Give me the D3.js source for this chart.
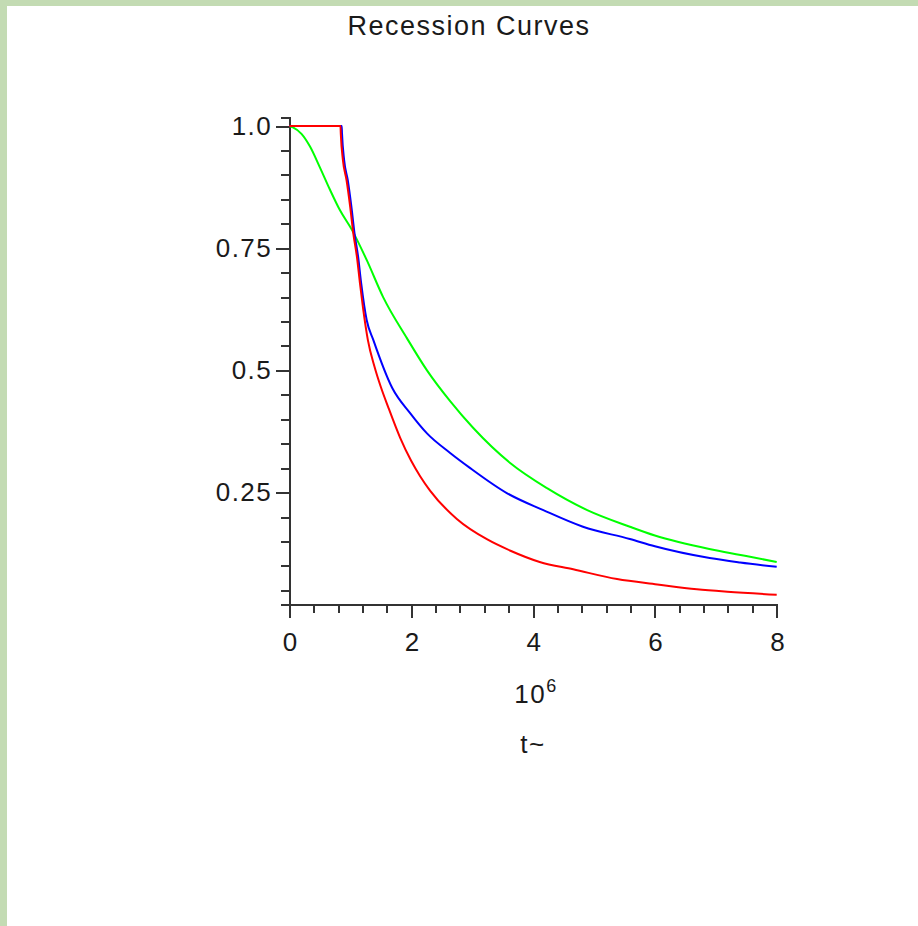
<html>
<head>
<script src="https://d3js.org/d3.v7.min.js"></script>
<style>
  body { margin: 0; background: #c3dbb3; }
  svg { display: block; }
  text { font-family: "Liberation Sans", Arial, sans-serif; fill: #1a1a1a; }
</style>
</head>
<body>
<svg width="918" height="926"></svg>
<script>
// values: t (x 10^6) and relative discharge
const redT   = [0, 0.84, 0.845, 0.88, 0.94, 1.0, 1.05, 1.11, 1.16, 1.21, 1.29, 1.40, 1.50, 1.62, 1.82, 2.0, 2.15, 2.31, 2.75, 3.25, 3.63, 4.11, 4.66, 5.38, 6.04, 6.69, 7.19, 8];
const redQ   = [1, 1, 0.985, 0.93, 0.889, 0.834, 0.781, 0.732, 0.678, 0.628, 0.562, 0.507, 0.467, 0.426, 0.362, 0.315, 0.283, 0.254, 0.196, 0.154, 0.131, 0.108, 0.093, 0.073, 0.062, 0.052, 0.047, 0.041];
const blueT  = [0, 0.86, 0.865, 0.90, 0.96, 1.02, 1.07, 1.13, 1.18, 1.27, 1.38, 1.69, 1.98, 2.26, 2.64, 2.97, 3.57, 4.17, 4.82, 5.59, 6.0, 6.9, 7.4, 8];
const blueQ  = [1, 1, 0.985, 0.93, 0.889, 0.834, 0.781, 0.732, 0.678, 0.603, 0.562, 0.464, 0.413, 0.371, 0.331, 0.300, 0.249, 0.214, 0.180, 0.155, 0.140, 0.116, 0.107, 0.098];
const greenT = [0, 0.06, 0.2, 0.34, 0.5, 0.67, 0.83, 1.03, 1.27, 1.54, 1.93, 2.26, 2.64, 3.02, 3.63, 4.23, 4.89, 5.59, 6.0, 7.0, 7.5, 8];
const greenQ = [1, 0.997, 0.984, 0.958, 0.916, 0.869, 0.828, 0.787, 0.726, 0.650, 0.566, 0.500, 0.437, 0.382, 0.310, 0.259, 0.214, 0.180, 0.162, 0.132, 0.120, 0.108];

const xMajor = [0, 2, 4, 6, 8];
const yMajor = [0.25, 0.5, 0.75, 1.0];
const yLabels = ["0.25", "0.5", "0.75", "1.0"];

const svg = d3.select('svg');

// white panel over the green frame
svg.append('rect')
    .attr('x', 7).attr('y', 6)
    .attr('width', 911).attr('height', 920)
    .attr('fill', '#ffffff');

const x = d3.scaleLinear().domain([0, 8]).range([289.3, 776.7]);
const y = d3.scaleLinear().domain([0.022, 1.017]).range([604, 117.7]);

const xMinor = d3.range(0, 8.001, 0.4).map(d => +d.toFixed(1));
const yMinor = d3.range(0.05, 1.0001, 0.05).map(d => +d.toFixed(2));

// y axis
const yAxisG = svg.append('g').attr('transform', `translate(${x(0)},0)`);
yAxisG.call(d3.axisLeft(y).tickValues(yMinor).tickSize(8).tickFormat(''));
yAxisG.call(g => g.selectAll('.tick text').remove());
const yMajG = svg.append('g').attr('transform', `translate(${x(0)},0)`)
    .call(d3.axisLeft(y).tickValues(yMajor).tickSize(13).tickPadding(4)
        .tickFormat((d, i) => yLabels[i]));
yMajG.select('.domain').remove();

// x axis
const xAxisG = svg.append('g').attr('transform', `translate(0,${y(0.022)})`);
xAxisG.call(d3.axisBottom(x).tickValues(xMinor).tickSize(9).tickSizeOuter(0).tickFormat(''));
const xMajG = svg.append('g').attr('transform', `translate(0,${y(0.022)})`)
    .call(d3.axisBottom(x).tickValues(xMajor).tickSize(14).tickFormat(d3.format('d')));
xMajG.select('.domain').remove();

svg.selectAll('.domain, .tick line')
    .attr('stroke', '#333')
    .attr('stroke-width', 2)
    .attr('shape-rendering', 'crispEdges');

svg.selectAll('.tick text')
    .attr('font-size', 26)
    .attr('letter-spacing', 1.5)
    .attr('fill', '#1a1a1a');
xMajG.selectAll('.tick text').attr('y', 29).attr('dy', '0.71em').attr('dx', 1);

const line = d3.line().x(d => x(d[0])).y(d => y(d[1])).curve(d3.curveMonotoneX);

const series = [
    { t: greenT, q: greenQ, color: '#00ff00' },
    { t: blueT, q: blueQ, color: '#0000ff' },
    { t: redT, q: redQ, color: '#ff0000' }
];
series.forEach(s => {
    svg.append('path')
        .datum(s.t.map((t, i) => [t, s.q[i]]))
        .attr('d', line)
        .attr('fill', 'none')
        .attr('stroke', s.color)
        .attr('stroke-width', 2);
});

// titles
svg.append('text')
    .attr('x', 469).attr('y', 35)
    .attr('text-anchor', 'middle')
    .attr('font-size', 27)
    .attr('letter-spacing', 1.5)
    .text('Recession Curves');

const unit = svg.append('text')
    .attr('x', 536).attr('y', 703)
    .attr('text-anchor', 'middle')
    .attr('font-size', 26)
    .attr('letter-spacing', 1.5);
unit.append('tspan').text('10');
unit.append('tspan').attr('font-size', 18).attr('dy', -11).text('6');

svg.append('text')
    .attr('x', 533).attr('y', 753)
    .attr('text-anchor', 'middle')
    .attr('font-size', 26)
    .attr('letter-spacing', 1.5)
    .text('t~');
</script>
</body>
</html>
